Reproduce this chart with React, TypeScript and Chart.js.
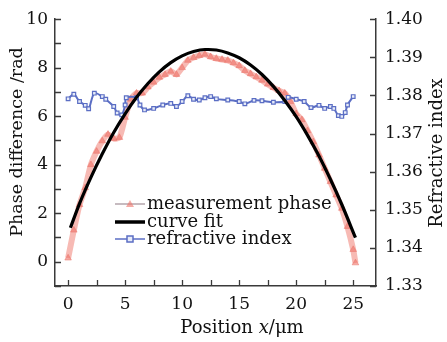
import React, { useEffect, useRef } from "react";
import { Chart, registerables } from "chart.js";

Chart.register(...registerables);

// ---- data ----
const phaseX = [0, 0.5, 1, 1.5, 2, 2.5, 3, 3.5, 4, 4.5, 5, 5.5, 6, 6.5, 7, 7.5, 8, 8.5, 9, 9.5, 10, 10.5, 11, 11.5, 12, 12.5, 13, 13.5, 14, 14.5, 15, 15.5, 16, 16.5, 17, 17.5, 18, 18.5, 19, 19.5, 20, 20.5, 21, 21.5, 22, 22.5, 23, 23.5, 24, 24.5, 25, 25.2];
const phaseY = [0.15, 1.3, 2.35, 3.05, 4.0, 4.55, 4.98, 5.25, 5.08, 5.12, 5.95, 6.7, 6.95, 6.95, 7.2, 7.4, 7.6, 7.72, 7.85, 7.72, 8.0, 8.3, 8.42, 8.5, 8.55, 8.45, 8.38, 8.34, 8.3, 8.2, 8.08, 7.88, 7.75, 7.62, 7.48, 7.32, 7.18, 7.05, 6.95, 6.6, 6.1, 5.85, 5.4, 4.94, 4.4, 3.85, 3.3, 2.75, 2.2, 1.45, 0.5, -0.05];

const fitX = [0.2, 1, 2, 3, 4, 5, 6, 7, 8, 9, 10, 11, 12, 12.3, 13, 14, 15, 16, 17, 18, 19, 20, 21, 22, 23, 24, 25.2];
const fitY = [1.4, 2.4, 3.48, 4.45, 5.33, 6.1, 6.78, 7.35, 7.83, 8.21, 8.49, 8.67, 8.75, 8.75, 8.73, 8.61, 8.41, 8.11, 7.72, 7.23, 6.65, 5.98, 5.21, 4.36, 3.4, 2.36, 0.99];

const indexX = [0, 0.5, 1, 1.5, 1.8, 2.3, 3, 3.3, 4, 4.3, 4.7, 5, 5.1, 6, 6.3, 6.7, 7.5, 8.3, 9, 9.5, 10, 10.5, 11, 11.5, 12, 12.5, 13, 14, 15, 15.5, 16.3, 17, 18, 19, 19.3, 20, 20.7, 21.3, 22, 22.5, 23, 23.3, 23.7, 24, 24.3, 24.5, 25];
const indexN = [1.3791, 1.3803, 1.3784, 1.3774, 1.3765, 1.3806, 1.3797, 1.379, 1.3771, 1.3754, 1.3749, 1.3775, 1.3794, 1.3794, 1.3775, 1.3762, 1.3766, 1.3775, 1.3779, 1.3771, 1.3784, 1.3799, 1.379, 1.3788, 1.3794, 1.3797, 1.3791, 1.3788, 1.3784, 1.3778, 1.3787, 1.3786, 1.3782, 1.3784, 1.3795, 1.379, 1.3784, 1.3768, 1.3774, 1.3766, 1.3771, 1.3766, 1.3747, 1.3745, 1.3755, 1.3775, 1.3797];

const xTicks = [0, 2.5, 5, 7.5, 10, 12.5, 15, 17.5, 20, 22.5, 25];
const xLabels = [0, 5, 10, 15, 20, 25];
const leftTicks = [-1, 0, 1, 2, 3, 4, 5, 6, 7, 8, 9, 10];
const rightTicks = [1.33, 1.34, 1.35, 1.36, 1.37, 1.38, 1.39, 1.4];

const legendLabels = ["measurement phase", "curve fit", "refractive index"];
const xTitle = ["Position ", "x", "/\u03bcm"];
const yTitle = "Phase difference /rad";
const y2Title = "Refractive index";

const SERIF = "'DejaVu Serif', serif";
const AXIS = "#3a3a3a";
const TEXT = "#111";
const RED_LINE = "rgba(240,130,118,0.55)";
const RED_FILL = "rgba(238,115,105,0.6)";
const BLUE = "#5b6ec4";

const decorPlugin = {
  id: "decor",
  afterDraw(chart: any) {
    const ctx = chart.ctx;
    const { x, y, y2 } = chart.scales;
    const a = chart.chartArea;
    ctx.save();
    // inward tick marks
    ctx.strokeStyle = AXIS;
    ctx.lineWidth = 1.3;
    ctx.beginPath();
    xTicks.forEach((v) => {
      const px = Math.round(x.getPixelForValue(v)) + 0.5;
      ctx.moveTo(px, a.bottom);
      ctx.lineTo(px, a.bottom - 6);
    });
    leftTicks.forEach((v) => {
      const py = Math.round(y.getPixelForValue(v)) + 0.5;
      ctx.moveTo(a.left, py);
      ctx.lineTo(a.left + 6, py);
    });
    rightTicks.forEach((v) => {
      const py = Math.round(y2.getPixelForValue(v)) + 0.5;
      ctx.moveTo(a.right, py);
      ctx.lineTo(a.right - 6, py);
    });
    ctx.stroke();

    // axis titles
    ctx.fillStyle = TEXT;
    ctx.textBaseline = "middle";
    ctx.textAlign = "center";
    ctx.font = `17.5px ${SERIF}`;
    ctx.save();
    ctx.translate(17, 142);
    ctx.rotate(-Math.PI / 2);
    ctx.fillText(yTitle, 0, 0);
    ctx.restore();

    ctx.font = `18px ${SERIF}`;
    ctx.save();
    ctx.translate(437, 153);
    ctx.rotate(-Math.PI / 2);
    ctx.fillText(y2Title, 0, 0);
    ctx.restore();

    // x title with italic x
    const normal = `18px ${SERIF}`;
    const italic = `italic 18px ${SERIF}`;
    ctx.font = normal;
    const w0 = ctx.measureText(xTitle[0]).width;
    const w2 = ctx.measureText(xTitle[2]).width;
    ctx.font = italic;
    const w1 = ctx.measureText(xTitle[1]).width;
    let sx = 242 - (w0 + w1 + w2) / 2;
    ctx.textAlign = "left";
    ctx.font = normal;
    ctx.fillText(xTitle[0], sx, 328);
    sx += w0;
    ctx.font = italic;
    ctx.fillText(xTitle[1], sx, 328);
    sx += w1;
    ctx.font = normal;
    ctx.fillText(xTitle[2], sx, 328);

    // legend
    const rows = [204, 222, 239];
    const lx0 = 115;
    const lx1 = 145;
    const mid = (lx0 + lx1) / 2;
    // measurement phase
    ctx.strokeStyle = "rgba(150,130,140,0.9)";
    ctx.lineWidth = 1.2;
    ctx.beginPath();
    ctx.moveTo(lx0, rows[0]);
    ctx.lineTo(lx1, rows[0]);
    ctx.stroke();
    ctx.fillStyle = RED_FILL;
    ctx.beginPath();
    ctx.moveTo(mid, rows[0] - 4);
    ctx.lineTo(mid + 4, rows[0] + 3);
    ctx.lineTo(mid - 4, rows[0] + 3);
    ctx.closePath();
    ctx.fill();
    // curve fit
    ctx.strokeStyle = "#000";
    ctx.lineWidth = 3.5;
    ctx.beginPath();
    ctx.moveTo(lx0, rows[1]);
    ctx.lineTo(lx1, rows[1]);
    ctx.stroke();
    // refractive index
    ctx.strokeStyle = BLUE;
    ctx.lineWidth = 1.5;
    ctx.beginPath();
    ctx.moveTo(lx0, rows[2]);
    ctx.lineTo(lx1, rows[2]);
    ctx.stroke();
    ctx.fillStyle = "#e6ebf8";
    ctx.fillRect(mid - 3, rows[2] - 3, 6, 6);
    ctx.strokeRect(mid - 3, rows[2] - 3, 6, 6);

    ctx.fillStyle = TEXT;
    ctx.font = `18px ${SERIF}`;
    ctx.textAlign = "left";
    legendLabels.forEach((t, i) => ctx.fillText(t, 147, rows[i]));
    ctx.restore();
  },
};

const bgPlugin = {
  id: "bg",
  beforeDraw(chart: any) {
    const ctx = chart.ctx;
    ctx.save();
    ctx.fillStyle = "#fff";
    ctx.fillRect(0, 0, chart.width, chart.height);
    ctx.restore();
  },
};

export default function App() {
  const ref = useRef<HTMLCanvasElement>(null);
  useEffect(() => {
    if (!ref.current) return;
    const tickFont = { family: SERIF, size: 17 };
    const chart = new Chart(ref.current, {
      type: "line",
      data: {
        datasets: [
          {
            label: legendLabels[1],
            data: fitX.map((v, i) => ({ x: v, y: fitY[i] })),
            yAxisID: "y",
            borderColor: "#000",
            borderWidth: 3.2,
            pointRadius: 0,
            tension: 0.4,
            cubicInterpolationMode: "monotone",
            order: 1,
          },
          {
            label: legendLabels[2],
            data: indexX.map((v, i) => ({ x: v, y: indexN[i] })),
            yAxisID: "y2",
            borderColor: BLUE,
            borderWidth: 2,
            pointStyle: "rect",
            pointRadius: 2.6,
            pointBackgroundColor: "#e6ebf8",
            pointBorderColor: BLUE,
            pointBorderWidth: 1.2,
            tension: 0.3,
            order: 2,
          },
          {
            label: legendLabels[0],
            data: phaseX.map((v, i) => ({ x: v, y: phaseY[i] })),
            yAxisID: "y",
            borderColor: RED_LINE,
            borderWidth: 6,
            pointStyle: "triangle",
            pointRadius: 3.8,
            pointBackgroundColor: RED_FILL,
            pointBorderColor: "rgba(235,115,105,0.5)",
            pointBorderWidth: 1,
            tension: 0.2,
            order: 3,
          },
        ],
      } as any,
      options: {
        responsive: false,
        animation: false,
        events: [],
        layout: { padding: { top: 17, left: 0, right: 0, bottom: 0 } },
        plugins: { legend: { display: false }, tooltip: { enabled: false } },
        scales: {
          x: {
            type: "linear",
            min: -1.15,
            max: 27,
            afterBuildTicks: (s: any) => {
              s.ticks = xTicks.map((v) => ({ value: v }));
            },
            afterFit: (s: any) => {
              s.height = 56;
            },
            ticks: {
              autoSkip: false,
              maxRotation: 0,
              padding: 8,
              color: TEXT,
              font: tickFont,
              callback: (v: any) => (xLabels.includes(Number(v)) ? String(v) : ""),
            },
            grid: { display: false, drawTicks: false },
            border: { display: true, color: AXIS, width: 1.5 },
          },
          y: {
            type: "linear",
            position: "left",
            min: -1,
            max: 10,
            afterBuildTicks: (s: any) => {
              s.ticks = leftTicks.map((v) => ({ value: v }));
            },
            afterFit: (s: any) => {
              s.width = 55;
            },
            ticks: {
              autoSkip: false,
              padding: 7,
              color: TEXT,
              font: tickFont,
              callback: (v: any) => {
                const n = Number(v);
                return n >= 0 && n % 2 === 0 ? String(n) : "";
              },
            },
            grid: { display: false, drawTicks: false },
            border: { display: true, color: AXIS, width: 1.5 },
          },
          y2: {
            type: "linear",
            position: "right",
            min: 1.33,
            max: 1.4,
            afterBuildTicks: (s: any) => {
              s.ticks = rightTicks.map((v) => ({ value: v }));
            },
            afterFit: (s: any) => {
              s.width = 71;
            },
            ticks: {
              autoSkip: false,
              padding: 9,
              color: TEXT,
              font: tickFont,
              callback: (v: any) => Number(v).toFixed(2),
            },
            grid: { display: false, drawTicks: false },
            border: { display: true, color: AXIS, width: 1.5 },
          },
        },
      } as any,
      plugins: [bgPlugin, decorPlugin],
    });
    return () => chart.destroy();
  }, []);

  return (
    <div style={{ position: "absolute", left: 0, top: 0, width: 447, height: 342, background: "#fff" }}>
      <canvas ref={ref} width={447} height={342} />
    </div>
  );
}
